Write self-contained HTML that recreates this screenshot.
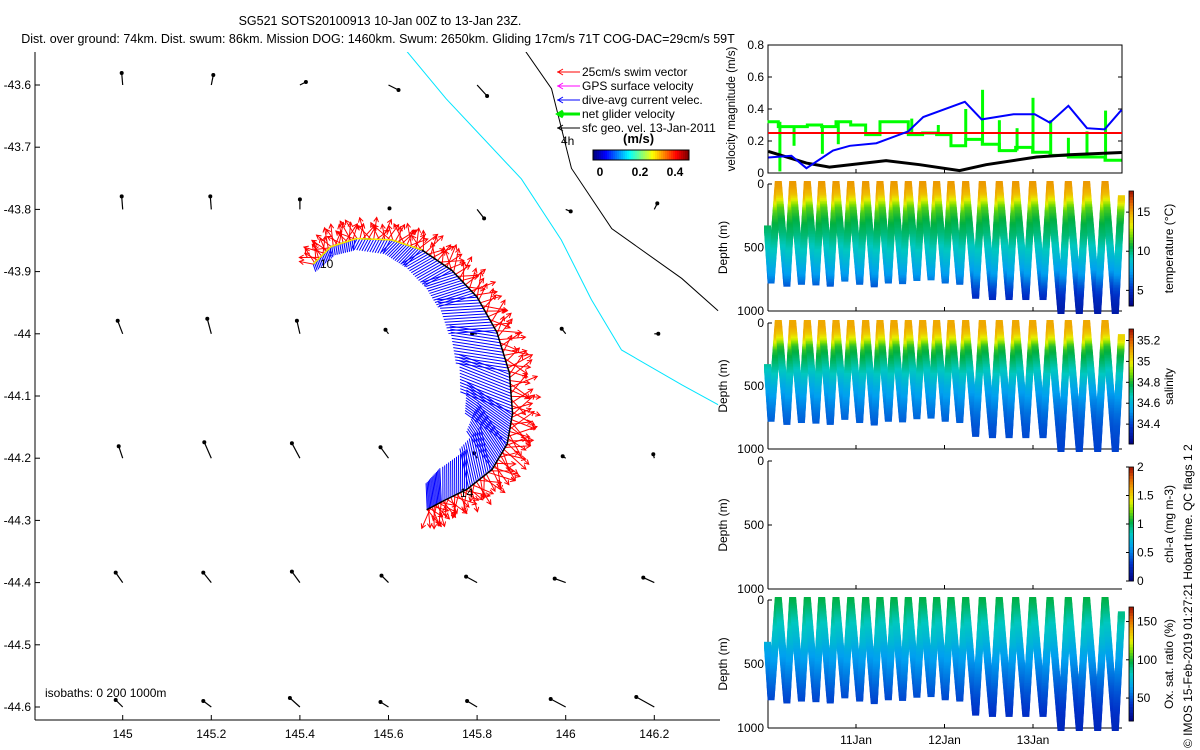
<!DOCTYPE html>
<html><head><meta charset="utf-8">
<style>
html,body{margin:0;padding:0;background:#fff;}
svg{display:block;font-family:"Liberation Sans",sans-serif;}
text{fill:#000;}
</style></head>
<body>
<svg id="fig" width="1200" height="750" viewBox="0 0 1200 750" xmlns="http://www.w3.org/2000/svg">
<rect x="0" y="0" width="1200" height="750" fill="#fff"/>
<g font-size="12.5" text-anchor="middle">
<text x="380" y="25">SG521 SOTS20100913 10-Jan 00Z to 13-Jan 23Z.</text>
<text x="378" y="43">Dist. over ground: 74km. Dist. swum: 86km. Mission DOG: 1460km. Swum: 2650km. Gliding 17cm/s 71T COG-DAC=29cm/s 59T</text>
</g>
<g id="map"></g>
<g id="right"></g>
<text transform="translate(1192,748) rotate(-90)" font-size="12">© IMOS 15-Feb-2019 01:27:21 Hobart time. QC flags 1  2</text>
</svg>
<script>
// ---------- DATA ----------
const mapLonTicks = [145, 145.2, 145.4, 145.6, 145.8, 146, 146.2];
const mapLatTicks = [-43.6, -43.7, -43.8, -43.9, -44, -44.1, -44.2, -44.3, -44.4, -44.5, -44.6];
const gridLons = [145, 145.2, 145.4, 145.6, 145.8, 146, 146.2];
const gridLats = [-43.6, -43.8, -44.0, -44.2, -44.4, -44.6];
const geoU = [
 [-1, 2, 6, 10, 10, null, null],
 [-1, -1, 0, 1, 7, 5, 3],
 [-5, -4, -3, -3, -5, -4, 4],
 [-4, -7, -8, -8, -3, -3, -1],
 [-7, -8, -8, -7, -11, -11, -11],
 [-7, -8, -10, -8, -10, -15, -18]];
const geoV = [
 [12, 10, 3, -5, -11, null, null],
 [13, 13, 10, 1, -9, -2, 6],
 [13, 15, 13, 4, 0, 5, 0],
 [12, 16, 15, 11, 5, 2, 4],
 [10, 10, 11, 7, 6, 4, 5],
 [7, 6, 9, 5, 6, 8, 10]];
const trackLon = [145.430,145.470,145.527,145.607,145.675,145.743,145.800,145.845,145.873,145.880,145.868,145.834,145.777,145.720,145.686];
const trackLat = [-43.888,-43.860,-43.847,-43.849,-43.865,-43.898,-43.941,-43.998,-44.063,-44.128,-44.177,-44.218,-44.250,-44.270,-44.283];
const dacLen = [8,10,12,16,24,32,40,48,54,56,52,46,40,34,26];
const swimLen = [20,22,22,22,24,24,26,26,28,30,30,28,26,24,22];
const isoCyanLon = [145.617,145.730,145.900,145.990,146.058,146.126,146.262,146.344];
const isoCyanLat = [-43.525,-43.622,-43.751,-43.849,-43.945,-44.026,-44.082,-44.114];
const isoBlackLon = [145.889,145.968,146.013,146.104,146.262,146.344];
const isoBlackLat = [-43.525,-43.606,-43.734,-43.831,-43.911,-43.963];

const blueDays = [0.01,0.27,0.44,0.74,0.93,1.23,1.59,1.76,2.23,2.42,2.78,3.02,3.19,3.40,3.61,3.81,4.0];
const blueVals = [0.097,0.108,0.03,0.14,0.17,0.186,0.26,0.35,0.445,0.335,0.367,0.367,0.315,0.42,0.28,0.273,0.394];
const blackDays = [0.01,0.44,0.70,1.34,1.72,2.17,2.47,3.04,3.41,4.0];
const blackVals = [0.135,0.062,0.037,0.077,0.052,0.015,0.052,0.10,0.114,0.128];
const swimSpeed = 0.25;
const surfDays = [0.122,0.284,0.45,0.612,0.774,0.94,1.109,1.271,1.429,1.591,1.753,1.911,2.073,2.239,2.427,2.619,2.804,2.996,3.192,3.399,3.606,3.814];
const greenLevels = [0.32,0.29,0.29,0.30,0.29,0.32,0.30,0.24,0.32,0.32,0.24,0.25,0.24,0.17,0.21,0.18,0.14,0.16,0.13,0.11,0.10,0.10,0.08];
const spikeDays = [0.14,0.30,0.62,0.80,1.63,1.93,2.24,2.43,2.62,2.82,3.00,3.20,3.40,3.61,3.82];
const spikeLo = [0.01,0.17,0.12,0.18,0.24,0.24,0.21,0.18,0.14,0.14,0.13,0.11,0.10,0.10,0.08];
const spikeHi = [0.32,0.29,0.30,0.32,0.34,0.30,0.40,0.52,0.33,0.28,0.47,0.33,0.22,0.26,0.39];

const startDepth = 350;
const apogeeDepths = [760,785,770,775,785,745,770,790,760,765,740,735,760,770,880,890,890,890,890,1000,1000,1000,1000];
const endDepth = 100;
const profDepths = [0,50,100,150,200,300,400,500,600,700,800,900,1000];
const tempProfile = [15.2,15,14.4,13,11.6,10.6,10,9.2,8.3,7.3,5.8,4.8,4.2];
const salProfile = [35.1,35.1,35.05,34.95,34.82,34.74,34.66,34.58,34.52,34.47,34.43,34.41,34.4];
const oxyProfile = [97,94,90,86,82,76,68,62,56,50,45,41,38];
const tempTicks = [5,10,15], tempRange=[3,17.7];
const salTicks = [34.4,34.6,34.8,35,35.2], salRange=[34.21,35.31];
const chlTicks = [0,0.5,1,1.5,2], chlRange=[0,2];
const oxyTicks = [50,100,150], oxyRange=[20,169];
const velTicks = [0,0.2,0.4,0.6,0.8];
const depthTicks = [0,500,1000];
const dayTicks = [1,2,3];
const dayLabels = ['11Jan','12Jan','13Jan'];

// ---------- HELPERS ----------
const NS='http://www.w3.org/2000/svg';
function mk(parent,tag,attrs){const e=document.createElementNS(NS,tag);for(const k in attrs)e.setAttribute(k,attrs[k]);parent.appendChild(e);return e;}
const cmapStops=[0,0.15,0.3,0.42,0.52,0.62,0.7,0.8,0.9,1];
const cmapCols=[[0,0,128],[0,48,200],[0,160,240],[0,200,192],[0,176,64],[128,224,0],[232,240,0],[240,176,0],[224,96,0],[160,16,0]];
function jet(v){v=Math.max(0,Math.min(1,v));for(let i=1;i<cmapStops.length;i++){if(v<=cmapStops[i]){const f=(v-cmapStops[i-1])/(cmapStops[i]-cmapStops[i-1]);const a=cmapCols[i-1],b=cmapCols[i];return `rgb(${Math.round(a[0]+f*(b[0]-a[0]))},${Math.round(a[1]+f*(b[1]-a[1]))},${Math.round(a[2]+f*(b[2]-a[2]))})`;}}return 'rgb(160,16,0)';}
function jetStd(v){v=Math.max(0,Math.min(1,v));const c=x=>Math.round(255*Math.max(0,Math.min(1,1.5-Math.abs(4*v-x))));return `rgb(${c(3)},${c(2)},${c(1)})`;}
function interp(xs,ys,x){if(x<=xs[0])return ys[0];for(let i=1;i<xs.length;i++){if(x<=xs[i]){const f=(x-xs[i-1])/(xs[i]-xs[i-1]);return ys[i-1]+f*(ys[i]-ys[i-1]);}}return ys[ys.length-1];}

// ---------- MAP ----------
const map=document.getElementById('map');
const mx=lon=>122.7+(lon-145)*443;
const my=lat=>85+(-43.6-lat)*622;
const mL=35,mR=720,mT=52,mB=720;
function polyline(g,xs,ys,stroke,w,name){const p=mk(g,'polyline',{points:xs.map((v,i)=>mx(v)+','+my(ys[i])).join(' '),fill:'none',stroke:stroke,'stroke-width':w});return p;}
const defs=mk(map,'defs',{});
const cp=mk(defs,'clipPath',{id:'mclip'});mk(cp,'rect',{x:mL,y:mT,width:mR-mL,height:mB-mT});
const clipG=mk(map,'g',{'clip-path':'url(#mclip)'});
polyline(clipG,isoCyanLon,isoCyanLat,'#00e5ff',1,'isobath-200m');
polyline(clipG,isoBlackLon,isoBlackLat,'#000',1,'isobath-1000m');
gridLats.forEach((lat,r)=>gridLons.forEach((lon,c)=>{
  const u=geoU[r][c],v=geoV[r][c]; if(u===null)return;
  const x0=mx(lon),y0=my(lat),x1=x0+u,y1=y0-v;
  const g=mk(map,'g',{});
  
  
  mk(g,'line',{x1:x0,y1:y0,x2:x1,y2:y1,stroke:'#000','stroke-width':1.2});
  mk(g,'circle',{cx:x1,cy:y1,r:2,fill:'#000'});
}));
const N=360, trk=[];
for(let k=0;k<N;k++){const s=k/(N-1)*(trackLon.length-1);const i=Math.min(Math.floor(s),trackLon.length-2),f=s-i;
 const x=mx(trackLon[i]+f*(trackLon[i+1]-trackLon[i])),y=my(trackLat[i]+f*(trackLat[i+1]-trackLat[i]));
 const dx=mx(trackLon[i+1])-mx(trackLon[i]),dy=my(trackLat[i+1])-my(trackLat[i]);const L=Math.hypot(dx,dy);
 trk.push({x,y,nx:dy/L,ny:-dx/L,dl:dacLen[i]+f*(dacLen[i+1]-dacLen[i]),sl:swimLen[i]+f*(swimLen[i+1]-swimLen[i])});}
const blueG=mk(map,'g',{stroke:'#0000ff','stroke-width':1});

trk.forEach((p,k)=>{if(k%2)return;const a=0.45; const ix=-p.nx,iy=-p.ny;
  const nx=ix*Math.cos(a)-iy*Math.sin(a), ny=iy*Math.cos(a)+ix*Math.sin(a);
  mk(blueG,'line',{x1:p.x,y1:p.y,x2:p.x+nx*p.dl,y2:p.y+ny*p.dl});});
const redG=mk(map,'g',{stroke:'#ff0000','stroke-width':1,fill:'none'});

const offs=[-0.6,0.2,0.7,-0.3,0.5,-0.8,0.1,0.9,-0.5,0.4,-0.2,0.6,-0.9];
trk.forEach((p,k)=>{if(k%2)return;const a=offs[(k/2)%offs.length];
  const nx=p.nx*Math.cos(a)-p.ny*Math.sin(a), ny=p.ny*Math.cos(a)+p.nx*Math.sin(a);
  const ln=p.sl*(0.7+0.3*((k/2)%3)/2);
  const x1=p.x+nx*ln,y1=p.y+ny*ln;
  mk(redG,'line',{x1:p.x,y1:p.y,x2:x1,y2:y1});
  const ha=Math.atan2(ny,nx);
  mk(redG,'polyline',{points:`${x1-5*Math.cos(ha-0.5)},${y1-5*Math.sin(ha-0.5)} ${x1},${y1} ${x1-5*Math.cos(ha+0.5)},${y1-5*Math.sin(ha+0.5)}`});});
polyline(map,trackLon,trackLat,'#000',1.5,'glider-track');
polyline(map,trackLon.slice(0,5),trackLat.slice(0,5),'#ffee00',1.5,'track-start');
mk(map,'text',{x:320,y:268,'font-size':12}).textContent='10';
mk(map,'text',{x:460,y:497,'font-size':12}).textContent='14';
const ax=mk(map,'g',{stroke:'#000','stroke-width':1});

mk(ax,'line',{x1:mL,y1:mT,x2:mL,y2:mB});mk(ax,'line',{x1:mL,y1:mB,x2:mR,y2:mB});
mapLatTicks.forEach(v=>{const y=my(v);mk(ax,'line',{x1:mL,y1:y,x2:mL+5,y2:y});
  const t=mk(map,'text',{x:31,y:y+4,'font-size':12,'text-anchor':'end'});t.textContent=String(v);
  });
mapLonTicks.forEach(v=>{const x=mx(v);mk(ax,'line',{x1:x,y1:mB,x2:x,y2:mB-5});
  const t=mk(map,'text',{x:x,y:738,'font-size':12,'text-anchor':'middle'});t.textContent=String(v);
  });
const iso=mk(map,'text',{x:45,y:697,'font-size':12});iso.textContent='isobaths: 0   200   1000m';iso.setAttribute('xml:space','preserve');

const lg=mk(map,'g',{'font-size':12});

const legItems=[['#ff0000','25cm/s swim vector',1],['#ff00ff','GPS surface velocity',1],['#0000ff','dive-avg current velec.',1],['#00ee00','net glider velocity',3],['#000','sfc geo. vel. 13-Jan-2011',1]];
legItems.forEach((it,i)=>{const y=72+i*14;
  const e=mk(lg,'g',{});
  
  mk(e,'line',{x1:557,y1:y,x2:580,y2:y,stroke:it[0],'stroke-width':it[2]});
  mk(e,'polyline',{points:`${563},${y-3} ${558},${y} ${563},${y+3}`,fill:'none',stroke:it[0],'stroke-width':it[2]});
  mk(e,'text',{x:582,y:y+4}).textContent=it[1];});
mk(lg,'text',{x:561,y:145,'font-size':12}).textContent='4h';
mk(lg,'text',{x:623,y:143,'font-size':13,'font-weight':'bold'}).textContent='(m/s)';
for(let i=0;i<48;i++)mk(lg,'rect',{x:593+i*2,y:150,width:2.2,height:10,fill:jetStd(i/47)});
mk(lg,'rect',{x:593,y:150,width:96,height:10,fill:'none',stroke:'#000'});
[['0',600],['0.2',640],['0.4',675]].forEach(a=>mk(lg,'text',{x:a[1],y:176,'font-size':12,'font-weight':'bold','text-anchor':'middle'}).textContent=a[0]);

// ---------- RIGHT PANELS ----------
const R=document.getElementById('right');
const pL=768,pR=1122;
const tx=d=>767.5+d*88.5;
function axesBox(g,top,bot,yt,ylab,yfun,fmt){
  mk(g,'line',{x1:pL,y1:top,x2:pL,y2:bot,stroke:'#000'});
  mk(g,'line',{x1:pL,y1:bot,x2:pR,y2:bot,stroke:'#000'});
  yt.forEach(v=>{const y=yfun(v);mk(g,'line',{x1:pL,y1:y,x2:pL+4,y2:y,stroke:'#000'});
    const t=mk(g,'text',{x:pL-4,y:y+4,'font-size':12,'text-anchor':'end'});t.textContent=fmt(v);
    });
  dayTicks.forEach(d=>mk(g,'line',{x1:tx(d),y1:bot,x2:tx(d),y2:bot-4,stroke:'#000'}));
  const t=mk(g,'text',{transform:`translate(${ylab},${(top+bot)/2}) rotate(-90)`,'font-size':12,'text-anchor':'middle'});
  return t;}
const v0=45,v1=173;const vy=v=>v1-(v/0.8)*(v1-v0);
const vg=mk(R,'g',{});
mk(vg,'rect',{x:pL,y:v0,width:pR-pL,height:v1-v0,fill:'none',stroke:'#000'});
velTicks.forEach(v=>mk(vg,'line',{x1:pR,y1:vy(v),x2:pR-4,y2:vy(v),stroke:'#000'}));
const vlab=axesBox(vg,v0,v1,velTicks,735,vy,v=>String(v));vlab.textContent='velocity magnitude (m/s)';
vlab.setAttribute('font-size','11.5');

let gpts=[];const bounds=[0].concat(surfDays,[4.0]);
greenLevels.forEach((lv,i)=>{gpts.push(tx(bounds[i])+','+vy(lv));gpts.push(tx(bounds[i+1])+','+vy(lv));});
const gl=mk(vg,'polyline',{points:gpts.join(' '),fill:'none',stroke:'#00ff00','stroke-width':3});

spikeDays.forEach((d,i)=>{const s=mk(vg,'line',{x1:tx(d),x2:tx(d),y1:vy(spikeLo[i]),y2:vy(spikeHi[i]),stroke:'#00ff00','stroke-width':3});
  });
const rl=mk(vg,'line',{x1:pL,x2:pR,y1:vy(swimSpeed),y2:vy(swimSpeed),stroke:'#ff0000','stroke-width':2});

const bkl=mk(vg,'polyline',{points:blackDays.map((d,i)=>tx(d)+','+vy(blackVals[i])).join(' '),fill:'none',stroke:'#000','stroke-width':3});

const bl=mk(vg,'polyline',{points:blueDays.map((d,i)=>tx(d)+','+vy(blueVals[i])).join(' '),fill:'none',stroke:'#0000ff','stroke-width':2});


const verts=[[0,startDepth],[0.04,apogeeDepths[0]],[surfDays[0],0]];
for(let i=1;i<surfDays.length;i++){const a=surfDays[i-1],b=surfDays[i];verts.push([a+(b-a)*0.6,apogeeDepths[i]]);verts.push([b,0]);}
verts.push([3.93,apogeeDepths[apogeeDepths.length-1]]);verts.push([4.0,endDepth]);
function scatterPanel(top,bot,name,prof,range,ticks,ylabText,cbTop,cbBot,fmt){
  const g=mk(R,'g',{});
  const dy=d=>top+(d/1000)*(bot-top);
  const lab=axesBox(g,top,bot,depthTicks,727,dy,v=>String(v));lab.textContent='Depth (m)';
  
  if(prof){const pg=mk(g,'g',{});
    for(let i=1;i<verts.length;i++){const [t0,d0]=verts[i-1],[t1,d1]=verts[i];const n=Math.max(2,Math.round(Math.abs(d1-d0)/12));
      for(let k=0;k<n;k++){const f=k/n;const t=t0+f*(t1-t0),d=d0+f*(d1-d0);
        const val=interp(profDepths,prof,d);
        mk(pg,'rect',{x:tx(t)-3.5,y:dy(d)-3,width:7,height:6,fill:jet((val-range[0])/(range[1]-range[0]))});}}}
  const cg=mk(g,'g',{});
  const nseg=40;for(let i=0;i<nseg;i++){const h=(cbBot-cbTop)/nseg;mk(cg,'rect',{x:1129,y:cbBot-(i+1)*h,width:4.5,height:h+0.4,fill:jet((i+0.5)/nseg)});}
  mk(cg,'rect',{x:1129,y:cbTop,width:4.5,height:cbBot-cbTop,fill:'none',stroke:'#000','stroke-width':0.8});
  const cy=v=>cbBot-(v-range[0])/(range[1]-range[0])*(cbBot-cbTop);
  ticks.forEach(v=>{const y=cy(v);mk(cg,'line',{x1:1126,x2:1129,y1:y,y2:y,stroke:'#000'});
    mk(cg,'text',{x:1137,y:y+4,'font-size':12}).textContent=fmt(v);});
  const tt=mk(cg,'text',{transform:`translate(1173,${(cbTop+cbBot)/2}) rotate(-90)`,'font-size':12,'text-anchor':'middle'});tt.textContent=ylabText;
  return g;}
scatterPanel(184,311,'temperature-panel',tempProfile,tempRange,tempTicks,'temperature (°C)',191,306,v=>String(v));
scatterPanel(323,449,'salinity-panel',salProfile,salRange,salTicks,'salinity',329,444,v=>String(v));
scatterPanel(461,589,'chlorophyll-panel',null,chlRange,chlTicks,'chl-a (mg m-3)',467,581,v=>String(v));
const og=scatterPanel(600,728,'oxygen-panel',oxyProfile,oxyRange,oxyTicks,'Ox. sat. ratio (%)',607,721,v=>String(v));
dayTicks.forEach((d,i)=>{const t=mk(og,'text',{x:tx(d),y:744,'font-size':12,'text-anchor':'middle'});t.textContent=dayLabels[i];
  });
</script>
</body></html>
